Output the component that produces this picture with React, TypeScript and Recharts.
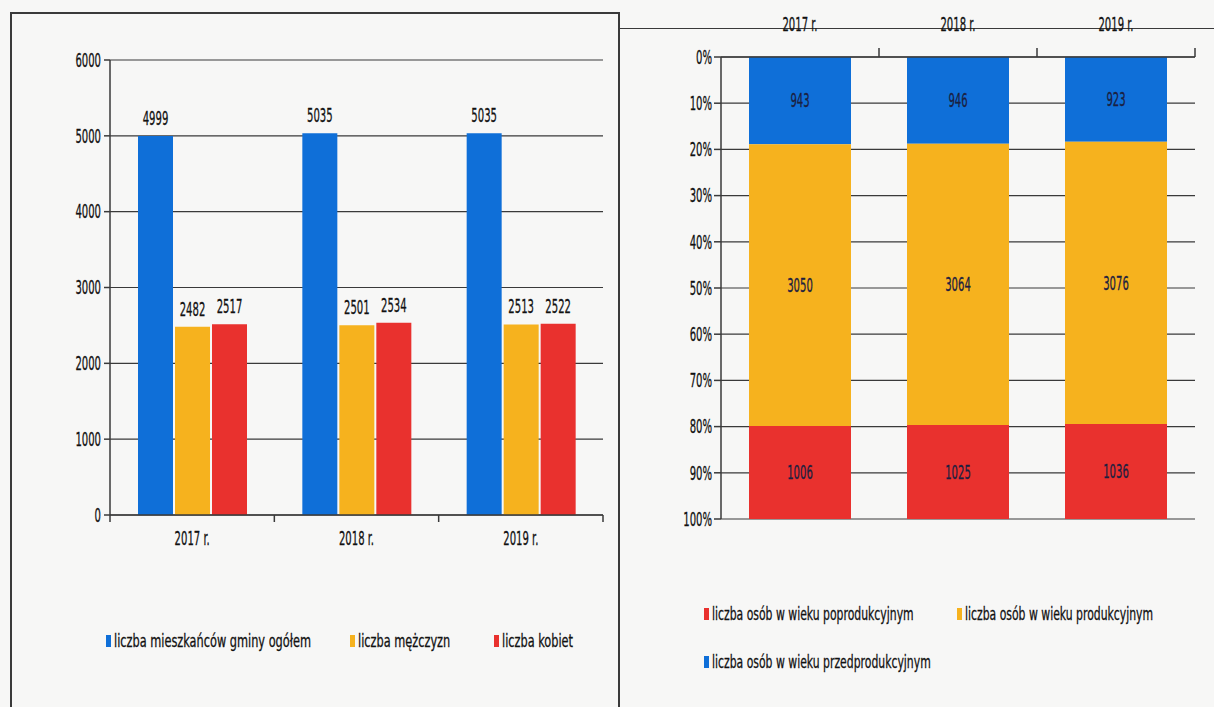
import React from 'react'
import { BarChart, Bar, XAxis, YAxis, CartesianGrid, LabelList } from 'recharts'

// ── Data ─────────────────────────────────────────────────────────────────────

const years = ['2017 r.', '2018 r.', '2019 r.']

// left chart: residents
const total = [4999, 5035, 5035]
const men = [2482, 2501, 2513]
const women = [2517, 2534, 2522]
const leftTicks = [0, 1000, 2000, 3000, 4000, 5000, 6000]

// right chart: age groups
const preAge = [943, 946, 923]
const workAge = [3050, 3064, 3076]
const postAge = [1006, 1025, 1036]
const pctTicks = [0, 0.1, 0.2, 0.3, 0.4, 0.5, 0.6, 0.7, 0.8, 0.9, 1]

const leftData = years.map((y, i) => ({ year: y, total: total[i], men: men[i], women: women[i] }))
const rightData = years.map((y, i) => ({ year: y, pre: preAge[i], work: workAge[i], post: postAge[i] }))

// ── Style ────────────────────────────────────────────────────────────────────

const FONT = "'DejaVu Sans Condensed', 'DejaVu Sans', sans-serif"
const BLUE = '#0f6fd8'
const ORANGE = '#f6b21e'
const RED = '#e9312e'
const LINE = '#3a3a3a'
const INK = '#111'

const LEFT_STEP = (603 - 110) / 3
const RIGHT_STEP = (1195 - 721) / 3

// scanned Calibri is very narrow, so squeeze the text horizontally
function Narrow({ x, y, anchor = 'middle', size = 20, sx = 0.56, fill = INK, children }: any) {
  return (
    <text
      transform={`translate(${x} ${y}) scale(${sx} 1)`}
      textAnchor={anchor}
      dominantBaseline="central"
      fontSize={size}
      fontFamily={FONT}
      fill={fill}
      stroke={fill}
      strokeWidth={0.3}
    >
      {children}
    </text>
  )
}

function LeftTick({ x, y, payload, index }: any) {
  return (
    <g>
      <Narrow x={x} y={y + 23} size={20} sx={0.56}>{payload.value}</Narrow>
      <line x1={x + LEFT_STEP / 2} x2={x + LEFT_STEP / 2} y1={y} y2={y + 7} stroke={LINE} strokeWidth={1.5} />
      {index === 0 && (
        <line x1={x - LEFT_STEP / 2} x2={x - LEFT_STEP / 2} y1={y} y2={y + 7} stroke={LINE} strokeWidth={1.5} />
      )}
    </g>
  )
}

function RightTick({ x, y, payload }: any) {
  return (
    <g>
      <Narrow x={x} y={y - 33} size={20} sx={0.56}>{payload.value}</Narrow>
      <line x1={x + RIGHT_STEP / 2} x2={x + RIGHT_STEP / 2} y1={y} y2={y - 9} stroke={LINE} strokeWidth={1.5} />
    </g>
  )
}

function YTick({ x, y, payload, pct }: any) {
  const v = pct ? `${Math.round(payload.value * 100)}%` : payload.value
  return <Narrow x={x} y={y} anchor="end">{v}</Narrow>
}

function TopLabel({ x, y, width, value }: any) {
  return <Narrow x={x + width / 2} y={y - 18}>{value}</Narrow>
}

function MidLabel({ x, y, width, height, value }: any) {
  return <Narrow x={x + width / 2} y={y + height / 2} fill="#1b2040">{value}</Narrow>
}

function LegendItem({ color, label, left, cy, sx = 0.7 }: { color: string; label: string; left: number; cy: number; sx?: number }) {
  return (
    <>
      <span style={{ position: 'absolute', left, top: cy - 6, width: 5, height: 12, background: color }} />
      <span
        style={{
          position: 'absolute',
          left: left + 8,
          top: cy - 12,
          fontFamily: FONT,
          fontSize: 18,
          lineHeight: '24px',
          color: INK,
          whiteSpace: 'nowrap',
          transform: `scaleX(${sx})`,
          transformOrigin: 'left center',
          WebkitTextStroke: '0.3px #111',
        }}
      >
        {label}
      </span>
    </>
  )
}

// ── App ──────────────────────────────────────────────────────────────────────

export default function App() {
  return (
    <div style={{ position: 'absolute', left: 0, top: 0, width: 1214, height: 707, background: '#f7f7f6', overflow: 'hidden' }}>
      {/* panel borders */}
      <div style={{ position: 'absolute', left: 10, top: 12, width: 606, height: 720, border: `2px solid ${LINE}` }} />
      <div style={{ position: 'absolute', left: 620, top: 28, width: 600, height: 0, borderTop: `1.5px solid ${LINE}` }} />

      {/* left: grouped bars */}
      <div style={{ position: 'absolute', left: 0, top: 0 }}>
        <BarChart
          width={620}
          height={700}
          data={leftData}
          margin={{ top: 60, right: 17, left: 50, bottom: 155 }}
          barSize={35}
          barGap={2}
        >
          <CartesianGrid vertical={false} stroke={LINE} strokeWidth={1.2} />
          <XAxis
            dataKey="year"
            height={30}
            axisLine={{ stroke: LINE, strokeWidth: 1.5 }}
            tickLine={false}
            tickSize={0}
            tickMargin={0}
            tick={<LeftTick />}
            interval={0}
          />
          <YAxis
            width={60}
            domain={[0, 6000]}
            ticks={leftTicks}
            interval={0}
            axisLine={{ stroke: LINE, strokeWidth: 1.5 }}
            tickLine={{ stroke: LINE, strokeWidth: 1.5 }}
            tickSize={6}
            tickMargin={3}
            tick={<YTick />}
          />
          <Bar dataKey="total" fill={BLUE} isAnimationActive={false}>
            <LabelList dataKey="total" content={<TopLabel />} />
          </Bar>
          <Bar dataKey="men" fill={ORANGE} isAnimationActive={false}>
            <LabelList dataKey="men" content={<TopLabel />} />
          </Bar>
          <Bar dataKey="women" fill={RED} isAnimationActive={false}>
            <LabelList dataKey="women" content={<TopLabel />} />
          </Bar>
        </BarChart>
      </div>
      <LegendItem color={BLUE} label="liczba mieszkańców gminy ogółem" left={106} cy={641} />
      <LegendItem color={ORANGE} label="liczba mężczyzn" left={350} cy={641} />
      <LegendItem color={RED} label="liczba kobiet" left={494} cy={641} />

      {/* right: 100% stacked bars */}
      <div style={{ position: 'absolute', left: 620, top: 0 }}>
        <BarChart
          width={594}
          height={700}
          data={rightData}
          stackOffset="expand"
          margin={{ top: 27, right: 19, left: 51, bottom: 181 }}
          barSize={102}
        >
          <CartesianGrid vertical={false} stroke={LINE} strokeWidth={1.2} />
          <XAxis
            dataKey="year"
            orientation="top"
            height={30}
            axisLine={{ stroke: LINE, strokeWidth: 1.5 }}
            tickLine={false}
            tickSize={0}
            tickMargin={0}
            tick={<RightTick />}
            interval={0}
          />
          <YAxis
            width={50}
            reversed
            domain={[0, 1]}
            ticks={pctTicks}
            interval={0}
            axisLine={{ stroke: LINE, strokeWidth: 1.5 }}
            tickLine={{ stroke: LINE, strokeWidth: 1.5 }}
            tickSize={7}
            tickMargin={2}
            tick={<YTick pct />}
          />
          <Bar dataKey="pre" stackId="a" fill={BLUE} isAnimationActive={false}>
            <LabelList dataKey="pre" content={<MidLabel />} />
          </Bar>
          <Bar dataKey="work" stackId="a" fill={ORANGE} isAnimationActive={false}>
            <LabelList dataKey="work" content={<MidLabel />} />
          </Bar>
          <Bar dataKey="post" stackId="a" fill={RED} isAnimationActive={false}>
            <LabelList dataKey="post" content={<MidLabel />} />
          </Bar>
        </BarChart>
      </div>
      <LegendItem color={RED} label="liczba osób w wieku poprodukcyjnym" left={704} cy={614} sx={0.67} />
      <LegendItem color={ORANGE} label="liczba osób w wieku produkcyjnym" left={957} cy={614} sx={0.67} />
      <LegendItem color={BLUE} label="liczba osób w wieku przedprodukcyjnym" left={704} cy={662} sx={0.67} />
    </div>
  )
}
